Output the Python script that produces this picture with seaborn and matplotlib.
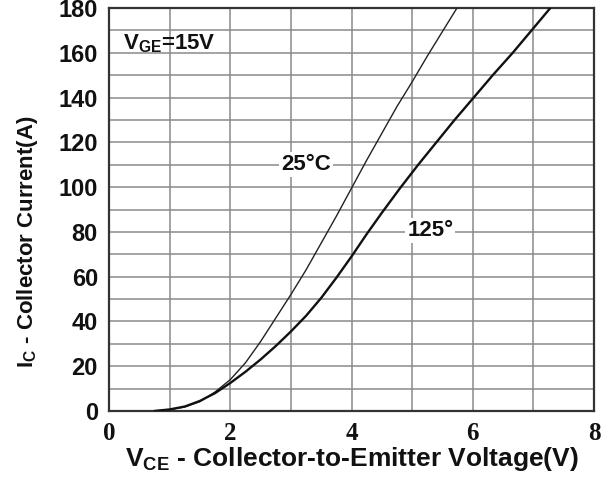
import matplotlib
matplotlib.use("Agg")
import matplotlib.pyplot as plt
from matplotlib.font_manager import FontProperties
from matplotlib.ticker import FixedFormatter
import seaborn as sns
import pandas as pd

# ---- data ----
v_25 = [0.75, 1.0, 1.25, 1.5, 1.75, 2.0, 2.25, 2.5, 2.75, 3.0, 3.25, 3.5, 3.75,
        4.0, 4.25, 4.5, 4.75, 5.0, 5.25, 5.5, 5.74]
i_25 = [0, 0.6, 1.8, 4.2, 8.5, 14, 21.5, 31, 41.5, 52, 63, 75, 87,
        99.5, 112, 124, 136, 147, 158.5, 169.5, 180]

v_125 = [0.75, 1.0, 1.25, 1.5, 1.75, 2.0, 2.25, 2.5, 2.75, 3.0, 3.25, 3.5, 3.75,
         4.0, 4.25, 4.5, 4.8, 5.1, 5.4, 5.7, 6.0, 6.33, 6.66, 6.97, 7.28]
i_125 = [0, 0.7, 2, 4.5, 8, 12.5, 17.5, 23, 29, 35.5, 42.5, 50.5, 59.5,
         69, 79, 88.5, 99.5, 110, 120, 130, 139.5, 150, 160, 170, 180]

x_ticks = [0, 2, 4, 6, 8]
y_ticks = [0, 20, 40, 60, 80, 100, 120, 140, 160, 180]
series_names = ["25°C", "125°"]

df = pd.concat([
    pd.DataFrame({"V": v_25, "I": i_25, "T": series_names[0]}),
    pd.DataFrame({"V": v_125, "I": i_125, "T": series_names[1]}),
], ignore_index=True)

sns.set_theme(style="white")
plt.rcParams['font.family'] = ['Liberation Sans', 'DejaVu Sans']
plt.rcParams['lines.solid_joinstyle'] = 'round'

fig = plt.figure(figsize=(6.04, 4.84), dpi=100)
ax = fig.add_axes([109/604, 1 - 411/484, (594-109)/604, (411-8)/484])

sns.lineplot(data=df, x="V", y="I", hue="T", size="T",
             sizes={series_names[0]: 1.0, series_names[1]: 1.7},
             palette={series_names[0]: "#222222", series_names[1]: "#111111"},
             sort=False, estimator=None, legend=False, ax=ax, zorder=3)

ax.set_xlim(0, 8)
ax.set_ylim(0, 180)
ax.set_xticks(range(0, 9))
ax.set_yticks(range(0, 181, 10))
ax.grid(True, color="#8a8a8a", linewidth=1.1, zorder=0)
ax.set_axisbelow(True)

ax.tick_params(axis="both", length=0, colors="#111111")
ax.tick_params(axis="y", pad=8, labelsize=17)
ax.tick_params(axis="x", pad=8, labelsize=18)

ax.xaxis.set_major_formatter(FixedFormatter(
    [str(v) if v in x_ticks else "" for v in range(0, 9)]))
ax.yaxis.set_major_formatter(FixedFormatter(
    [str(v) if v in y_ticks else "" for v in range(0, 181, 10)]))

fig.canvas.draw()
fp_x = FontProperties(family="Liberation Serif", weight="bold", size=18)
fp_y = FontProperties(family="Liberation Sans", weight="bold", size=17)
for lbl in ax.get_xticklabels():
    lbl.set_fontproperties(fp_x)
for lbl in ax.get_yticklabels():
    lbl.set_fontproperties(fp_y)

for s in ax.spines.values():
    s.set_color("#333333")
    s.set_linewidth(1.6)

ax.set_xlabel(r"V$_{\mathregular{CE}}$ - Collector-to-Emitter Voltage(V)",
              fontweight="bold", fontsize=19, color="#111111")
ax.xaxis.set_label_coords(0.5, -48/403)
ax.xaxis.label.set_va("center")
ax.set_ylabel(r"I$_{\mathregular{C}}$ - Collector Current(A)",
              fontweight="bold", fontsize=16, color="#111111")
ax.yaxis.set_label_coords((28 - 109)/485, (411 - 242)/403)
ax.yaxis.label.set_va("center")

ax.text(0.23, 164, r"V$_{\mathregular{GE}}$=15V", fontweight="bold", fontsize=16,
        va="center", ha="left", color="#111111", zorder=4)

bbox = dict(facecolor="white", edgecolor="none", pad=1.5)
ax.text(3.25, 110, series_names[0], fontweight="bold", fontsize=16,
        ha="center", va="center", color="#111111", bbox=bbox, zorder=4)
ax.text(5.3, 80.5, series_names[1], fontweight="bold", fontsize=16,
        ha="center", va="center", color="#111111", bbox=bbox, zorder=4)

fig.savefig("out.png", dpi=100)
